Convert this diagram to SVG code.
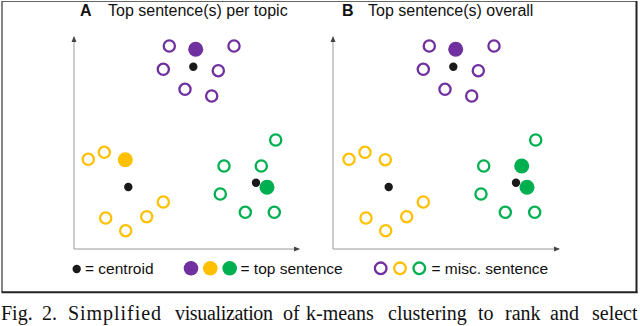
<svg xmlns="http://www.w3.org/2000/svg" width="640" height="326" viewBox="0 0 640 326">
<style>
.ttl{font-family:"Liberation Sans",Arial,sans-serif;font-size:16px;fill:#111}
.lbl{font-family:"Liberation Sans",Arial,sans-serif;font-size:15.5px;fill:#111}
.cap{font-family:"Liberation Serif","Times New Roman",serif;font-size:20px;fill:#111}
.axis{stroke:#9a9a9a;stroke-width:1;fill:none}
.op{fill:none;stroke:#7030A0;stroke-width:2.3}
.oy{fill:none;stroke:#FFC000;stroke-width:2.3}
.og{fill:none;stroke:#00B050;stroke-width:2.3}
.fp{fill:#7030A0}
.fy{fill:#FFC000}
.fg{fill:#00B050}
.cen{fill:#1a1a1a}
</style>
<defs>
<marker id="arr" viewBox="0 0 6 6" refX="5" refY="3" markerWidth="6" markerHeight="6" markerUnits="userSpaceOnUse" orient="auto">
<path d="M0,0.5 L6,3 L0,5.5 Z" fill="#444"/>
</marker>
</defs>
<rect width="640" height="326" fill="#fff"/>
<g id="frame">
<line x1="1.5" y1="1.5" x2="636" y2="1.5" stroke="#666" stroke-width="1"/>
<line x1="2" y1="1.5" x2="2" y2="292" stroke="#333" stroke-width="1.2"/>
<line x1="636.5" y1="1" x2="636.5" y2="293" stroke="#222" stroke-width="2"/>
<line x1="1.5" y1="292.3" x2="637.5" y2="292.3" stroke="#222" stroke-width="2"/>
</g>
<g id="connectors">
<line class="axis" x1="74" y1="249" x2="74" y2="37" marker-end="url(#arr)"/>
<line class="axis" x1="74" y1="249" x2="299" y2="249" marker-end="url(#arr)"/>
<line class="axis" x1="333" y1="249" x2="333" y2="37" marker-end="url(#arr)"/>
<line class="axis" x1="333" y1="249" x2="559" y2="249" marker-end="url(#arr)"/>
</g>
<g id="titleA">
<text class="ttl" x="80" y="16" font-weight="bold">A</text>
<text class="ttl" x="108" y="16">Top sentence(s) per topic</text>
</g>
<g id="titleB">
<text class="ttl" x="342" y="16" font-weight="bold">B</text>
<text class="ttl" x="368" y="16">Top sentence(s) overall</text>
</g>
<g id="panelA-purple">
<circle class="op" cx="169.3" cy="46" r="5.6"/>
<circle class="fp" cx="195.7" cy="49.3" r="7.5"/>
<circle class="op" cx="234" cy="46" r="5.6"/>
<circle class="op" cx="163.3" cy="69.3" r="5.6"/>
<circle class="cen" cx="193.3" cy="66.7" r="4.2"/>
<circle class="op" cx="218.3" cy="70.7" r="5.6"/>
<circle class="op" cx="185" cy="89.3" r="5.6"/>
<circle class="op" cx="211.7" cy="96" r="5.6"/>
</g>
<g id="panelA-yellow">
<circle class="oy" cx="88.3" cy="159.3" r="5.6"/>
<circle class="oy" cx="104.3" cy="152.3" r="5.6"/>
<circle class="fy" cx="125.3" cy="159.7" r="7.5"/>
<circle class="cen" cx="128.3" cy="187" r="4.2"/>
<circle class="oy" cx="163.3" cy="202" r="5.6"/>
<circle class="oy" cx="105.7" cy="218" r="5.6"/>
<circle class="oy" cx="146.7" cy="216.7" r="5.6"/>
<circle class="oy" cx="125.7" cy="230.7" r="5.6"/>
</g>
<g id="panelA-green">
<circle class="og" cx="275.7" cy="140" r="5.6"/>
<circle class="og" cx="224" cy="166" r="5.6"/>
<circle class="og" cx="261.3" cy="166" r="5.6"/>
<circle class="cen" cx="256" cy="182.7" r="4.2"/>
<circle class="fg" cx="267" cy="187.3" r="7.5"/>
<circle class="og" cx="220.3" cy="194" r="5.6"/>
<circle class="og" cx="245.3" cy="212.3" r="5.6"/>
<circle class="og" cx="274.3" cy="212.3" r="5.6"/>
</g>
<g id="panelB-purple">
<circle class="op" cx="429.3" cy="46" r="5.6"/>
<circle class="fp" cx="455.7" cy="49.3" r="7.5"/>
<circle class="op" cx="494" cy="46" r="5.6"/>
<circle class="op" cx="423.3" cy="69.3" r="5.6"/>
<circle class="cen" cx="453.3" cy="66.7" r="4.2"/>
<circle class="op" cx="478.3" cy="70.7" r="5.6"/>
<circle class="op" cx="445" cy="89.3" r="5.6"/>
<circle class="op" cx="471.7" cy="96" r="5.6"/>
</g>
<g id="panelB-yellow">
<circle class="oy" cx="349" cy="159.3" r="5.6"/>
<circle class="oy" cx="365" cy="152.3" r="5.6"/>
<circle class="oy" cx="385.3" cy="159.7" r="5.6"/>
<circle class="cen" cx="388.7" cy="187" r="4.2"/>
<circle class="oy" cx="423.3" cy="202" r="5.6"/>
<circle class="oy" cx="366" cy="218" r="5.6"/>
<circle class="oy" cx="406.7" cy="216.7" r="5.6"/>
<circle class="oy" cx="385.7" cy="230.7" r="5.6"/>
</g>
<g id="panelB-green">
<circle class="og" cx="535.7" cy="140" r="5.6"/>
<circle class="og" cx="483.7" cy="166" r="5.6"/>
<circle class="fg" cx="521.7" cy="166" r="7.5"/>
<circle class="cen" cx="516" cy="182.7" r="4.2"/>
<circle class="fg" cx="527" cy="187.3" r="7.5"/>
<circle class="og" cx="481" cy="194" r="5.6"/>
<circle class="og" cx="505.3" cy="212.3" r="5.6"/>
<circle class="og" cx="534.7" cy="212.3" r="5.6"/>
</g>
<g id="legend-centroid">
<circle class="cen" cx="76.7" cy="269" r="4.2"/>
<text class="lbl" x="85" y="274.3">= centroid</text>
</g>
<g id="legend-top">
<circle class="fp" cx="191" cy="268.3" r="7.3"/>
<circle class="fy" cx="210.3" cy="268.3" r="7.3"/>
<circle class="fg" cx="229.7" cy="268.3" r="7.3"/>
<text class="lbl" x="240.5" y="274.3">= top sentence</text>
</g>
<g id="legend-misc">
<circle class="op" cx="380.7" cy="268.3" r="5.8"/>
<circle class="oy" cx="400" cy="268.3" r="5.8"/>
<circle class="og" cx="419.3" cy="268.3" r="5.8"/>
<text class="lbl" x="431.5" y="274.3">= misc. sentence</text>
</g>
<g id="caption">
<text class="cap" y="319.5"><tspan x="1">Fig.</tspan><tspan x="42">2.</tspan><tspan x="68" textLength="93" lengthAdjust="spacing">Simplified</tspan><tspan x="175" textLength="98" lengthAdjust="spacing">visualization</tspan><tspan x="283">of</tspan><tspan x="306">k-means</tspan><tspan x="388">clustering</tspan><tspan x="478">to</tspan><tspan x="505">rank</tspan><tspan x="550">and</tspan><tspan x="592">select</tspan></text>
</g>
</svg>
